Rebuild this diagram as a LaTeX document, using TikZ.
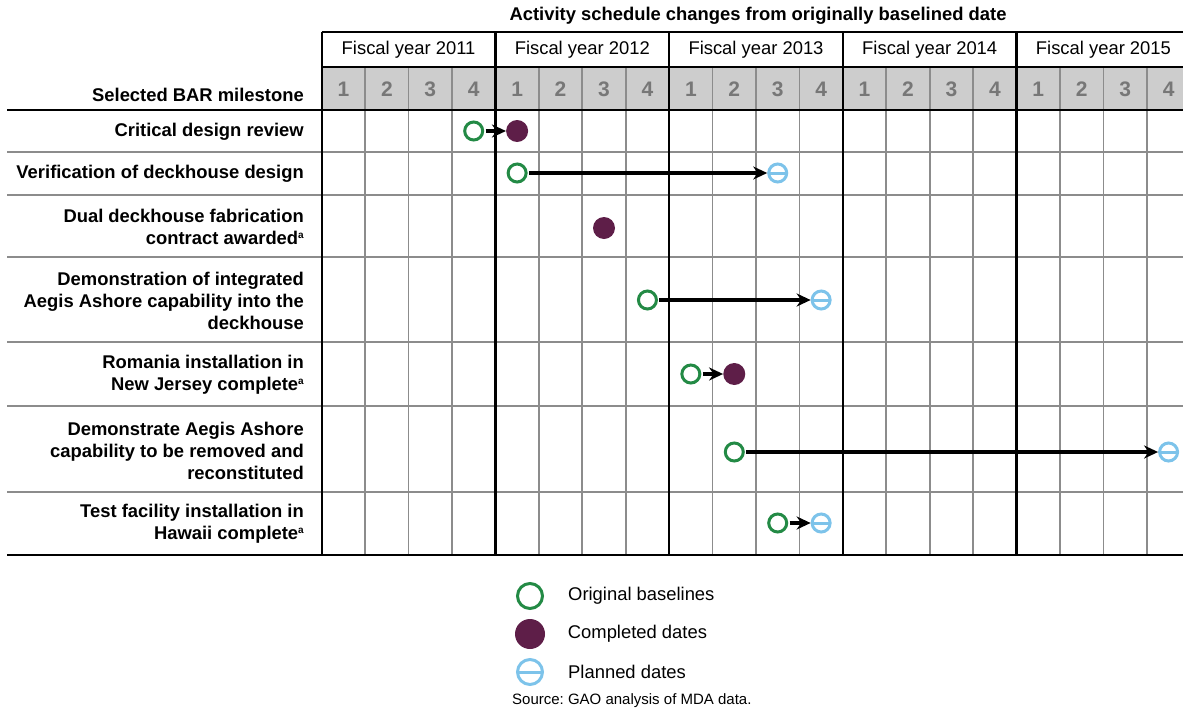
\documentclass[tikz,border=0pt]{standalone}
\usepackage{fontspec}
\setmainfont{Liberation Sans}
\usetikzlibrary{arrows.meta,positioning}
\definecolor{basegreen}{HTML}{238A45}
\definecolor{donepurple}{HTML}{5E1E48}
\definecolor{planblue}{HTML}{7DC3EA}
\definecolor{cellgray}{HTML}{CDCDCD}
\definecolor{rulegray}{HTML}{8C8C8C}
\definecolor{numgray}{HTML}{777777}
\newcommand{\gridx}{321.7}
\newcommand{\colw}{43.43}
\newcommand{\fn}{\raisebox{6pt}{\fontsize{10}{10}\selectfont a}}
\frenchspacing

\begin{document}
\begin{tikzpicture}[x=1pt, y=-1pt,
    origmark/.style={circle, draw=basegreen, line width=3pt, minimum size=18pt, inner sep=0pt},
    donemark/.style={circle, fill=donepurple, minimum size=22pt, inner sep=0pt},
    planmark/.style={circle, draw=planblue, line width=3pt, minimum size=18pt, inner sep=0pt,
        path picture={\draw[planblue, line width=3pt] (path picture bounding box.west) -- (path picture bounding box.east);}},
    slip/.style={-{Stealth[length=14pt, width=13pt]}, line width=3.2pt, shorten <=1.5pt},
    lbl/.style={font=\bfseries\fontsize{18.4}{22}\selectfont, align=right, anchor=east, inner sep=0pt},
    keytext/.style={font=\fontsize{18.4}{22}\selectfont, anchor=west, inner sep=0pt},
  ]
    \clip (0,0) rectangle (1183,715);

    % Header
    \node[font=\bfseries\fontsize{18.4}{22}\selectfont] (title) at (758,16) {Activity schedule changes from originally baselined date};
    \fill[cellgray] (\gridx,67) rectangle (1190,110);

    % Grid
    \foreach \i in {1,2,3,5,6,7,9,10,11,13,14,15,17,18,19} {
        \draw[rulegray, line width=1.8pt] ({\gridx+\colw*\i},67) -- ({\gridx+\colw*\i},555);
    }
    \foreach \y in {152,195,257,342,406,492} {
        \draw[rulegray, line width=1.8pt] (7,\y) -- (1183,\y);
    }
    \foreach \k in {0,...,4} {
        \draw[line width=2.2pt] ({\gridx+\colw*4*\k},32) -- ({\gridx+\colw*4*\k},555);
    }
    \draw[line width=2.2pt] (\gridx,32) -- (1183,32);
    \draw[line width=2.2pt] (\gridx,67) -- (1183,67);
    \draw[line width=2.2pt] (7,110) -- (1183,110);
    \draw[line width=2.4pt] (7,555) -- (1183,555);

    % Years and quarters
    \foreach \k in {0,...,4} {
        \pgfmathtruncatemacro\yr{2011+\k}
        \node[font=\fontsize{18.4}{22}\selectfont] (fy\k) at ({\gridx+\colw*(4*\k+2)},50) {Fiscal year \yr};
    }
    \foreach \i in {0,...,19} {
        \pgfmathtruncatemacro\qn{mod(\i,4)+1}
        \node[font=\bfseries\fontsize{21}{24}\selectfont, text=numgray] (q\i) at ({\gridx+\colw*(\i+0.5)},89) {\qn};
    }

    % Milestones
    \node[lbl] (head) at (304,95) {Selected BAR milestone};
    \node[lbl] (cdr) at (304,132) {Critical design review};
    \node[lbl] (vdd) at (304,174) {Verification of deckhouse design};
    \node[lbl] (ddf) at (304,227) {Dual deckhouse fabrication\\contract awarded\fn};
    \node[lbl] (dia) at (304,301) {Demonstration of integrated\\Aegis Ashore capability into the\\deckhouse};
    \node[lbl] (rin) at (304,375) {Romania installation in\\New Jersey complete\fn};
    \node[lbl] (dar) at (304,451) {Demonstrate Aegis Ashore\\capability to be removed and\\reconstituted};
    \node[lbl] (tfh) at (304,524) {Test facility installation in\\Hawaii complete\fn};

    % Markers (quarter index from FY2011 Q1)
    \foreach \n/\s/\q/\y in {cdr-o/origmark/3/131, cdr-d/donemark/4/131,
                             vdd-o/origmark/4/173, vdd-p/planmark/10/173,
                             ddf-d/donemark/6/228,
                             dia-o/origmark/7/300, dia-p/planmark/11/300,
                             rin-o/origmark/8/374, rin-d/donemark/9/374,
                             dar-o/origmark/9/452, dar-p/planmark/19/452,
                             tfh-o/origmark/10/523, tfh-p/planmark/11/523} {
        \node[\s] (\n) at ({\gridx+\colw*(\q+0.5)},\y) {};
    }
    \foreach \a/\b in {cdr-o/cdr-d, vdd-o/vdd-p, dia-o/dia-p, rin-o/rin-d, dar-o/dar-p, tfh-o/tfh-p} {
        \draw[slip] (\a) -- (\b);
    }

    % Key
    \node[origmark, minimum size=25pt] (key-o) at (530,596) {};
    \node[donemark, minimum size=30pt] (key-d) at (530,634) {};
    \node[planmark, minimum size=25pt] (key-p) at (530,672) {};
    \node[keytext, right=24pt of key-o] (txt-o) {Original baselines};
    \node[keytext, right=24pt of key-d, xshift=-1.5pt] (txt-d) {Completed dates};
    \node[keytext, right=24pt of key-p] (txt-p) {Planned dates};
    \node[font=\fontsize{15}{18}\selectfont, anchor=west, inner sep=0pt] (src) at (512,701) {Source: GAO analysis of MDA data.};
\end{tikzpicture}
\end{document}
